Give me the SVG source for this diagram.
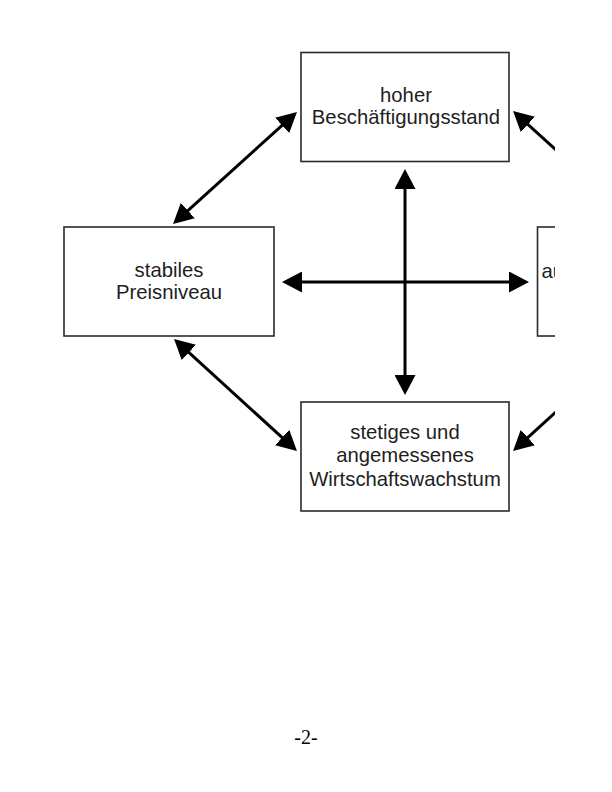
<svg xmlns="http://www.w3.org/2000/svg" width="612" height="792" viewBox="0 0 612 792">
  <style>
    .box { fill: #ffffff; stroke: #2a2a2a; stroke-width: 1.6; }
    .lbl { font-family: "Liberation Sans", Arial, sans-serif; font-size: 20.3px; fill: #1e1e1e; text-anchor: middle; }
    .conn { stroke: #000000; stroke-width: 3; fill: none; marker-start: url(#ah); marker-end: url(#ah); }
    .pg { font-family: "Liberation Serif", "Times New Roman", serif; font-size: 20px; fill: #000000; text-anchor: middle; }
  </style>
  <defs>
    <marker id="ah" viewBox="0 0 20 21" refX="16" refY="10.5" markerWidth="20" markerHeight="21" markerUnits="userSpaceOnUse" orient="auto-start-reverse">
      <path d="M0,0 L20,10.5 L0,21 z" fill="#000000"/>
    </marker>
    <clipPath id="page">
      <rect x="0" y="0" width="555" height="792"/>
    </clipPath>
  </defs>
  <rect x="0" y="0" width="612" height="792" fill="#ffffff"/>
  <g clip-path="url(#page)">
    <g id="connectors">
      <line class="conn" x1="405" y1="173" x2="405" y2="391"/>
      <line class="conn" x1="286" y1="282" x2="525" y2="282"/>
      <line class="conn" x1="294" y1="114.7" x2="176" y2="221.3"/>
      <line class="conn" x1="177" y1="341.7" x2="294" y2="448.3"/>
      <line class="conn" x1="516" y1="113.7" x2="634" y2="220.3"/>
      <line class="conn" x1="633" y1="341.7" x2="516" y2="448.3"/>
    </g>
    <g id="node-beschaeftigung">
      <rect class="box" x="301" y="52.5" width="208" height="109"/>
      <text class="lbl" x="406" y="101.5">hoher</text>
      <text class="lbl" x="406" y="124">Beschäftigungsstand</text>
    </g>
    <g id="node-preisniveau">
      <rect class="box" x="64" y="227" width="210" height="109"/>
      <text class="lbl" x="169" y="276.5">stabiles</text>
      <text class="lbl" x="169" y="299">Preisniveau</text>
    </g>
    <g id="node-wachstum">
      <rect class="box" x="301" y="402" width="208" height="109"/>
      <text class="lbl" x="405" y="438.5">stetiges und</text>
      <text class="lbl" x="405" y="462">angemessenes</text>
      <text class="lbl" x="405" y="485.5">Wirtschaftswachstum</text>
    </g>
    <g id="node-aussen">
      <rect class="box" x="537.5" y="227" width="210" height="109"/>
      <text class="lbl" x="541.5" y="278" style="text-anchor:start">au</text>
    </g>
  </g>
  <text class="pg" x="306" y="744">-2-</text>
</svg>
